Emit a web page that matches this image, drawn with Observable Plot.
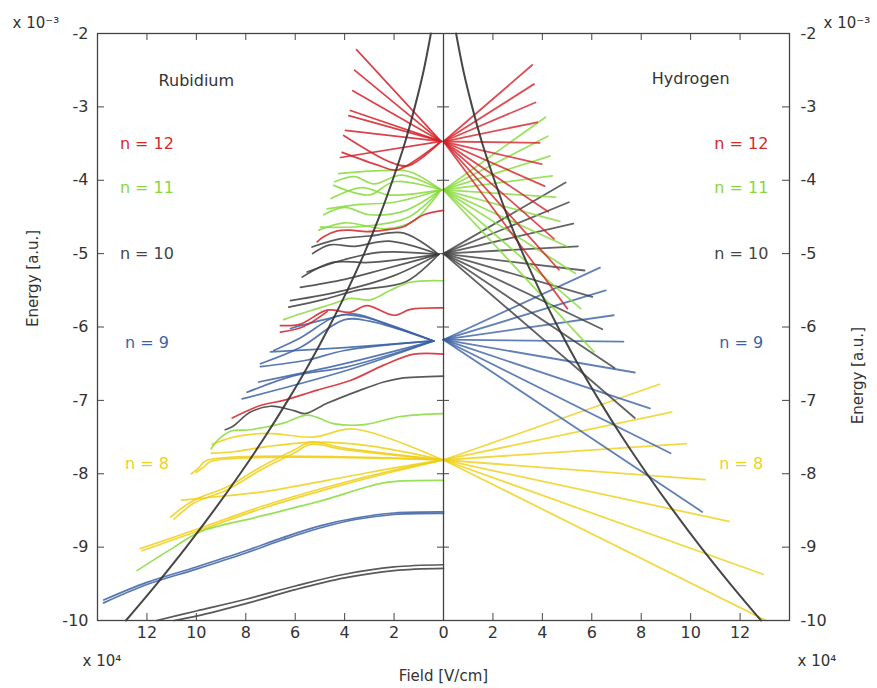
<!DOCTYPE html>
<html><head><meta charset="utf-8">
<script src="https://cdn.jsdelivr.net/npm/d3@7"></script>
<script src="https://cdn.jsdelivr.net/npm/@observablehq/plot@0.6"></script>
<style>body{margin:0;background:#fff;} svg{display:block}</style>
</head><body><div id="chart"></div>
<script>
// ---------- axes / labels ----------
const xTicks = [-12,-10,-8,-6,-4,-2,0,2,4,6,8,10,12];
const yTicks = [-10,-9,-8,-7,-6,-5,-4,-3,-2];
const innerYTicks = [-9,-8,-7,-6,-5,-4,-3];
const nLabels = ["n = 12","n = 11","n = 10","n = 9","n = 8"];
const nLabelY = [-3.50,-4.11,-5.01,-6.22,-7.87];
const nColors = ["#d42a2a","#8ad63c","#444444","#3d62a3","#ecd21c"];
const lineColors = {red:"#d42028", green:"#86da3a", gray:"#3c3c3c", blue:"#3a60a4", yellow:"#eecf14"};
const titles = ["Rubidium","Hydrogen"];
const titleX = [-10.0, 10.0];
const titleY = [-2.64, -2.62];

// ---------- Hydrogen (field, energy) : zero-field energies and fan end points ----------
const hE0 = [-3.472,-4.132,-5.0,-6.173,-7.8125];
const hEnds12 = [[3.59,-2.43],[3.66,-2.69],[3.72,-2.94],[3.79,-3.21],[3.89,-3.49],[3.97,-3.78],[4.09,-4.08],[4.24,-4.43],[4.47,-4.80],[4.67,-5.22],[5.01,-5.75]];
const hEnds11 = [[4.13,-3.14],[4.22,-3.40],[4.30,-3.67],[4.40,-3.94],[4.53,-4.23],[4.71,-4.56],[4.98,-4.90],[5.34,-5.27],[5.55,-5.75],[6.09,-6.34]];
const hEnds10 = [[4.94,-4.03],[5.07,-4.30],[5.25,-4.59],[5.44,-4.90],[5.71,-5.23],[6.02,-5.59],[6.43,-6.03],[6.92,-6.56],[7.74,-7.24]];
const hEnds9  = [[6.33,-5.19],[6.56,-5.50],[6.89,-5.84],[7.28,-6.20],[7.74,-6.62],[8.35,-7.11],[9.19,-7.72],[10.47,-8.52]];
const hEnds8  = [[8.74,-6.78],[9.23,-7.16],[9.83,-7.59],[10.58,-8.08],[11.55,-8.65],[12.93,-9.37],[13.04,-10.0]];

// ---------- classical ionization limit (field, energy) ----------
const ionCurve = [[0.51,-2],[0.80,-2.5],[1.16,-3],[1.57,-3.5],[2.06,-4],[2.60,-4.5],[3.21,-5],[3.89,-5.5],[4.63,-6],[5.43,-6.5],[6.30,-7],[7.23,-7.5],[8.23,-8],[9.29,-8.5],[10.41,-9],[11.60,-9.5],[12.85,-10]];

// ---------- Rubidium curves (field, energy) ----------
const rbRed = [
  [[0.1,-3.47],[3.52,-2.22]],
  [[0.1,-3.47],[3.60,-2.50]],
  [[0.1,-3.47],[3.67,-2.78]],
  [[0.1,-3.47],[3.77,-3.05]],
  [[0.1,-3.47],[3.83,-3.12]],
  [[0.1,-3.47],[3.97,-3.32]],
  [[0.1,-3.47],[1.4,-3.80],[2.1,-3.76],[4.04,-3.39]],
  [[0.1,-3.47],[1.9,-3.86],[2.6,-3.80],[4.10,-3.62]],
  [[0.1,-3.47],[4.17,-3.69]],
  [[0,-4.41],[0.8,-4.47],[1.6,-4.63],[2.4,-4.68],[3.1,-4.70],[3.8,-4.68],[4.3,-4.69],[4.85,-4.77],[5.11,-4.84]],
  [[0,-5.74],[1.34,-5.76],[2.0,-5.84],[3.1,-5.71],[3.77,-5.80],[4.71,-5.77],[5.79,-5.96],[6.6,-5.98]],
  [[4.71,-5.79],[5.7,-6.0],[6.6,-6.07]],
  [[0,-6.37],[1.2,-6.37],[2.42,-6.52],[3.77,-6.73],[5.11,-6.86],[6.47,-7.0],[7.41,-7.07],[8.55,-7.24]]
];
const rbGreen = [
  [[0.1,-4.13],[1.4,-3.88],[2.5,-3.87],[4.24,-3.91]],
  [[0.1,-4.13],[1.7,-3.93],[2.8,-4.05],[3.6,-3.95],[4.4,-4.02]],
  [[0.1,-4.13],[2.0,-4.02],[3.0,-4.20],[4.44,-4.07]],
  [[0.1,-4.13],[2.2,-4.20],[3.3,-4.10],[4.55,-4.25]],
  [[0.1,-4.13],[2.0,-4.30],[3.4,-4.33],[4.71,-4.39]],
  [[0.1,-4.13],[1.6,-4.42],[3.0,-4.47],[4.0,-4.37],[4.85,-4.47]],
  [[0.1,-4.13],[1.4,-4.50],[3.0,-4.62],[4.98,-4.64]],
  [[0.1,-4.13],[1.2,-4.55],[2.3,-4.66],[4.0,-4.58],[5.05,-4.68]],
  [[0,-5.37],[1.34,-5.39],[2.15,-5.50],[2.96,-5.63],[3.77,-5.61],[4.44,-5.68],[5.11,-5.75],[5.79,-5.82],[6.47,-5.90]],
  [[0,-7.18],[1.74,-7.22],[3.2,-7.33],[4.4,-7.32],[5.5,-7.20],[6.47,-7.31],[7.81,-7.40],[8.62,-7.42],[9.16,-7.55],[9.4,-7.66]],
  [[0,-8.09],[2.15,-8.11],[3.0,-8.17],[4.85,-8.36],[7.54,-8.59],[9.84,-8.79],[10.9,-9.0],[12.4,-9.32]]
];
const rbGray = [
  [[0.2,-5.01],[1.6,-4.72],[3.0,-4.76],[4.2,-4.80],[5.32,-4.91]],
  [[0.2,-5.01],[2.2,-4.83],[3.6,-4.90],[4.6,-4.88],[5.3,-5.0]],
  [[0.2,-5.01],[2.5,-4.98],[4.0,-5.08],[5.52,-5.25]],
  [[0.2,-5.01],[3.0,-5.12],[4.5,-5.12],[5.72,-5.32]],
  [[0.2,-5.01],[2.5,-5.22],[4.0,-5.35],[5.79,-5.46]],
  [[0.2,-5.01],[2.0,-5.30],[4.0,-5.50],[6.19,-5.64]],
  [[0.2,-5.01],[1.5,-5.38],[3.5,-5.50],[4.8,-5.62],[6.26,-5.73]],
  [[0,-6.67],[1.74,-6.70],[2.42,-6.75],[3.36,-6.86],[4.71,-7.04],[5.6,-7.18],[6.06,-7.14],[7.0,-7.08],[7.81,-7.16],[8.55,-7.36],[8.83,-7.40]],
  [[0,-9.24],[2.0,-9.27],[4.0,-9.37],[6.0,-9.53],[8.0,-9.71],[10.0,-9.87],[11.6,-10.0]],
  [[0,-9.29],[2.0,-9.32],[4.0,-9.42],[6.0,-9.58],[8.0,-9.77],[10.0,-9.94],[10.9,-10.0]]
];
const rbBlue = [
  [[0.4,-6.19],[2.0,-6.0],[3.63,-5.82],[4.7,-5.89],[6.19,-6.02]],
  [[0.4,-6.19],[3.3,-5.86],[4.3,-5.85],[5.8,-6.15],[6.87,-6.32]],
  [[0.4,-6.19],[3.0,-5.92],[4.0,-5.90],[5.8,-6.28],[7.41,-6.50]],
  [[0.4,-6.19],[4.0,-6.28],[7.0,-6.34]],
  [[0.4,-6.19],[4.0,-6.32],[5.5,-6.45],[7.41,-6.54]],
  [[0.4,-6.19],[4.0,-6.50],[7.48,-6.75]],
  [[0.4,-6.19],[4.0,-6.55],[6.0,-6.66],[7.95,-6.89]],
  [[0.4,-6.19],[4.0,-6.60],[8.15,-6.98]],
  [[0,-8.52],[2.0,-8.535],[3.5,-8.60],[5.0,-8.71],[6.5,-8.87],[8.0,-9.05],[10.0,-9.27],[12.0,-9.48],[13.75,-9.72]],
  [[0,-8.54],[2.0,-8.555],[3.5,-8.62],[5.0,-8.74],[6.5,-8.90],[8.0,-9.08],[10.0,-9.30],[12.0,-9.51],[13.75,-9.76]]
];
const rbYellow = [
  [[0.05,-7.81],[3.63,-7.39],[5.25,-7.50],[7.14,-7.45],[8.5,-7.50],[9.36,-7.60]],
  [[0.05,-7.81],[3.0,-7.62],[5.11,-7.57],[7.14,-7.63],[8.5,-7.70],[9.4,-7.72]],
  [[0.05,-7.81],[4.0,-7.65],[5.38,-7.57],[6.06,-7.68],[7.4,-7.91],[8.76,-8.18],[10.1,-8.36],[11.05,-8.59]],
  [[0.05,-7.81],[4.0,-7.67],[5.38,-7.60],[6.06,-7.72],[7.4,-7.95],[8.76,-8.22],[10.1,-8.40],[10.9,-8.62]],
  [[0,-7.81],[9.6,-7.82],[9.9,-7.92],[10.2,-8.0]],
  [[0,-7.81],[9.4,-7.83],[9.7,-7.91],[10.0,-7.98]],
  [[0,-7.81],[2.0,-7.92],[4.71,-8.09],[7.4,-8.25],[9.4,-8.32],[10.6,-8.36]],
  [[0,-7.81],[2.0,-7.95],[4.71,-8.18],[7.4,-8.45],[10.1,-8.77],[12.27,-9.02]],
  [[0,-7.81],[2.0,-7.97],[4.71,-8.21],[7.4,-8.48],[10.1,-8.80],[12.2,-9.05]]
];

// ---------- build rows ----------
let uid = 0;
function fanRows(ends, e0, color) {
  return ends.flatMap(p => { const id = uid++; return [{id, x:0, y:e0, c:color}, {id, x:p[0], y:p[1], c:color}]; });
}
function rbRows(curves, color) {
  return curves.flatMap(pts => { const id = uid++; return pts.map(p => ({id, x:-p[0], y:p[1], c:color})); });
}
const hRows = [
  ...fanRows(hEnds8, hE0[4], lineColors.yellow),
  ...fanRows(hEnds9, hE0[3], lineColors.blue),
  ...fanRows(hEnds10, hE0[2], lineColors.gray),
  ...fanRows(hEnds11, hE0[1], lineColors.green),
  ...fanRows(hEnds12, hE0[0], lineColors.red)
];
const rRows = [
  ...rbRows(rbGray, lineColors.gray),
  ...rbRows(rbYellow, lineColors.yellow),
  ...rbRows(rbBlue, lineColors.blue),
  ...rbRows(rbGreen, lineColors.green),
  ...rbRows(rbRed, lineColors.red)
];
const ionRows = [
  ...ionCurve.map(p => ({side:"H", x:p[0], y:p[1]})),
  ...ionCurve.map(p => ({side:"R", x:-p[0], y:p[1]}))
];
const labelRows = [
  ...nLabels.map((t,i) => ({t, x:-12.0, y:nLabelY[i], c:nColors[i]})),
  ...nLabels.map((t,i) => ({t, x:12.05, y:nLabelY[i], c:nColors[i]}))
];
const titleRows = titles.map((t,i) => ({t, x:titleX[i], y:titleY[i]}));

const mT = 33, mR = 88, mB = 68, mL = 97, W = 877, H = 688;
const fw = W - mL - mR, fh = H - mT - mB;
const axisColor = "#444";
const fs = 16;

const chart = Plot.plot({
  width: W, height: H,
  marginTop: mT, marginRight: mR, marginBottom: mB, marginLeft: mL,
  x: {domain: [-14, 14]},
  y: {domain: [-10, -2]},
  color: {type: "identity"},
  style: {fontFamily: "DejaVu Sans, sans-serif", fontSize: fs + "px", color: "#333", background: "#fff"},
  marks: [
    // lines
    Plot.line(rRows, {x:"x", y:"y", z:"id", stroke:"c", strokeWidth:1.7, strokeOpacity:0.85, curve:"catmull-rom"}),
    Plot.line(hRows, {x:"x", y:"y", z:"id", stroke:"c", strokeWidth:1.8, strokeOpacity:0.8}),
    Plot.line(ionRows, {x:"x", y:"y", z:"side", stroke:"#333", strokeWidth:2, strokeOpacity:0.9, curve:"catmull-rom"}),
    // frame, centre axis, inward ticks
    Plot.frame({stroke: axisColor, strokeWidth: 1.3}),
    Plot.ruleX([0], {stroke: axisColor, strokeWidth: 1.3}),
    Plot.tickX(xTicks.filter(d => d !== 0), {x: d => d, stroke: axisColor, insetTop: fh - 7}),
    Plot.tickX(xTicks.filter(d => d !== 0), {x: d => d, stroke: axisColor, insetBottom: fh - 7}),
    Plot.tickY(innerYTicks, {y: d => d, stroke: axisColor, insetRight: fw - 7}),
    Plot.tickY(innerYTicks, {y: d => d, stroke: axisColor, insetLeft: fw - 7}),
    Plot.tickY(innerYTicks, {y: d => d, stroke: axisColor, insetLeft: fw/2 - 6, insetRight: fw/2 - 6}),
    // tick labels
    Plot.axisX({ticks: xTicks, tickFormat: d => String(Math.abs(d)), tickSize: 0, tickPadding: 6, label: null, fontSize: fs, fill: "#333"}),
    Plot.axisY({anchor: "left", ticks: yTicks, tickFormat: d => String(d), tickSize: 0, tickPadding: 9, label: null, fontSize: fs, fill: "#333"}),
    Plot.axisY({anchor: "right", ticks: yTicks, tickFormat: d => String(d), tickSize: 0, tickPadding: 11, label: null, fontSize: fs, fill: "#333"}),
    // axis titles and multipliers
    Plot.text(["Energy [a.u.]"], {frameAnchor: "left", dx: -64, rotate: -90, fontSize: 15, fill: "#333"}),
    Plot.text(["Energy [a.u.]"], {frameAnchor: "right", dx: 69, rotate: -90, fontSize: 15, fill: "#333"}),
    Plot.text(["Field [V/cm]"], {frameAnchor: "bottom", dy: 60, fontSize: 15, fill: "#333"}),
    Plot.text(["x 10\u207B\u00B3"], {frameAnchor: "top-left", dx: -85, dy: -16, textAnchor: "start", fontSize: 15, fill: "#333"}),
    Plot.text(["x 10\u207B\u00B3"], {frameAnchor: "top-right", dx: 34, dy: -16, textAnchor: "start", fontSize: 15, fill: "#333"}),
    Plot.text(["x 10\u2074"], {frameAnchor: "bottom-left", dx: -15, dy: 45, textAnchor: "start", fontSize: 15, fill: "#333"}),
    Plot.text(["x 10\u2074"], {frameAnchor: "bottom-right", dx: 8, dy: 45, textAnchor: "start", fontSize: 15, fill: "#333"}),
    // in-plot labels
    Plot.text(titleRows, {x:"x", y:"y", text:"t", fontSize: 16, fill: "#333"}),
    Plot.text(labelRows, {x:"x", y:"y", text:"t", fill:"c", fontSize: 16})
  ]
});
document.getElementById("chart").appendChild(chart);
</script>
</body></html>
